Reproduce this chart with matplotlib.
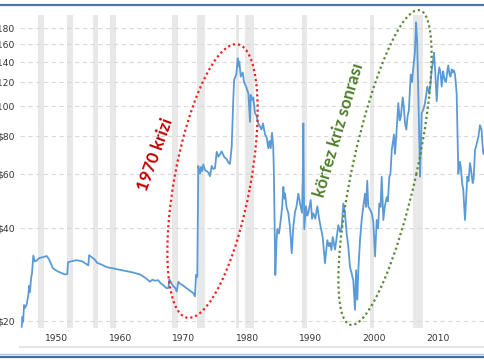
import matplotlib
matplotlib.use("Agg")
import matplotlib.pyplot as plt
from matplotlib.patches import Ellipse
from matplotlib.lines import Line2D
import matplotlib.transforms as mtransforms

# ---------------- data ----------------
years = [1946.33, 1946.45, 1946.55, 1946.7, 1946.85, 1947.12, 1947.37, 1947.5, 1947.64, 1947.8,
         1947.95, 1948.16, 1948.4, 1948.69, 1949.1, 1949.6, 1950.27, 1950.6, 1950.9, 1951.21,
         1951.6, 1952.09, 1952.6, 1953.15, 1953.5, 1953.62, 1954.3, 1954.99, 1955.9, 1956.82,
         1956.95, 1957.2, 1957.87, 1958.2, 1958.7, 1959.72, 1960.8, 1961.81, 1962.9, 1963.91,
         1964.96, 1965.8, 1966.54, 1966.9, 1967.32, 1967.84, 1968.2, 1968.63, 1969.17, 1969.45,
         1969.57, 1969.85, 1970.2, 1970.5, 1970.74, 1971.0, 1971.26, 1971.8, 1972.31, 1972.9,
         1973.35, 1973.62, 1973.78, 1973.98, 1974.14, 1974.3, 1974.41, 1974.6, 1974.75, 1974.93,
         1975.2, 1975.46, 1975.75, 1975.98, 1976.25, 1976.5, 1976.77, 1977.04, 1977.3, 1977.56,
         1977.83, 1978.2, 1978.61, 1978.9, 1979.13, 1979.4, 1979.65, 1979.78, 1980.0, 1980.15,
         1980.35, 1980.5, 1980.6, 1980.82, 1981.13, 1981.35, 1981.66, 1982.03, 1982.28, 1982.39,
         1982.6, 1982.8, 1983.07, 1983.3, 1983.59, 1983.86, 1984.1, 1984.33, 1984.65, 1984.9,
         1985.17, 1985.35, 1985.55, 1985.75, 1985.95, 1986.05, 1986.27, 1986.45, 1986.58, 1986.85,
         1987.12, 1987.35, 1987.53, 1987.7, 1987.8, 1988.06, 1988.31, 1988.58, 1988.85, 1989.1,
         1989.37, 1989.6, 1989.89, 1990.16, 1990.47, 1990.6, 1990.68, 1990.83, 1991.1, 1991.3,
         1991.46, 1991.84, 1992.05, 1992.25, 1992.57, 1992.88, 1993.1, 1993.31, 1993.73, 1994.09,
         1994.3, 1994.46, 1994.7, 1994.88, 1995.1, 1995.31, 1995.67, 1995.9, 1996.19, 1996.46,
         1996.72, 1996.98, 1997.24, 1997.51, 1997.76, 1998.03, 1998.3, 1998.55, 1998.82, 1998.98,
         1999.18, 1999.34, 1999.61, 1999.87, 2000.13, 2000.39, 2000.55, 2000.75, 2000.91, 2001.2,
         2001.45, 2001.7, 2001.97, 2002.24, 2002.45, 2002.65, 2002.85, 2003.02, 2003.28, 2003.5,
         2003.81, 2004.0, 2004.22, 2004.4, 2004.6, 2004.96, 2005.1, 2005.28, 2005.64, 2005.85,
         2006.02, 2006.33, 2006.5, 2006.69, 2006.9, 2007.1, 2007.3, 2007.59, 2007.8, 2008.0,
         2008.25, 2008.43, 2008.6, 2008.85, 2009.06, 2009.2, 2009.32, 2009.6, 2009.84, 2010.0,
         2010.2, 2010.52, 2010.7, 2010.9, 2011.1, 2011.26, 2011.45, 2011.69, 2011.9, 2012.09,
         2012.3, 2012.47, 2012.7, 2012.83, 2013.0, 2013.15, 2013.35, 2013.51, 2013.7, 2013.86,
         2014.05, 2014.2, 2014.4, 2014.57, 2014.83, 2015.0, 2015.09, 2015.3, 2015.46, 2015.7,
         2015.87, 2016.05, 2016.14, 2016.35, 2016.5, 2016.7, 2016.93, 2017.1, 2017.35, 2017.5,
         2017.72, 2017.95, 2018.24, 2018.5, 2018.74, 2018.9, 2019.02, 2019.29]

prices = [19.1, 20.6, 19.8, 22.5, 22.0, 22.6, 24.2, 26.0, 24.8, 27.5,
          28.5, 32.6, 31.2, 31.4, 32.0, 32.2, 32.5, 31.8, 30.8, 29.7,
          29.3, 28.9, 28.6, 28.3, 28.4, 31.0, 31.3, 31.5, 31.2, 30.3,
          32.7, 32.4, 31.6, 30.9, 30.6, 29.9, 29.6, 29.3, 29.0, 28.7,
          28.3, 27.6, 26.8, 27.2, 27.0, 27.1, 26.5, 26.1, 25.5, 25.6,
          27.3, 26.6, 25.9, 25.6, 24.9, 26.8, 26.4, 26.0, 25.5, 25.0,
          24.6, 24.0, 28.2, 27.8, 63.9, 61.0, 60.4, 63.5, 61.5, 64.6,
          62.0, 61.4, 60.8, 59.2, 63.9, 62.5, 62.8, 71.1, 68.5, 69.8,
          71.3, 68.5, 67.2, 65.5, 64.9, 74.0, 105.0, 122.0, 125.0, 128.0,
          143.4, 135.0, 140.0, 125.0, 129.0, 120.0, 116.0, 110.0, 89.0, 109.0,
          105.0, 107.0, 95.0, 93.4, 88.0, 86.0, 84.0, 88.0, 81.0, 79.4,
          73.0, 77.1, 73.0, 82.0, 73.0, 60.0, 28.2, 36.0, 39.8, 38.5,
          42.6, 47.0, 54.6, 50.0, 52.0, 46.6, 45.0, 40.4, 33.2, 40.4,
          45.3, 47.0, 51.9, 48.2, 45.0, 60.0, 88.0, 39.8, 47.2, 44.0,
          44.8, 49.5, 43.0, 44.8, 43.0, 47.2, 44.0, 41.4, 37.5, 30.8,
          34.0, 36.6, 35.0, 35.9, 34.0, 37.5, 34.1, 37.0, 41.0, 39.0,
          40.4, 48.2, 44.8, 38.5, 34.9, 29.9, 28.5, 27.0, 21.7, 29.2,
          23.4, 29.2, 36.7, 42.6, 47.2, 51.9, 47.0, 57.2, 47.2, 46.0,
          44.8, 42.0, 32.4, 42.6, 40.0, 48.2, 47.0, 58.9, 42.6, 47.0,
          50.6, 49.0, 58.9, 60.0, 72.0, 81.0, 70.0, 78.0, 102.5, 90.0,
          92.0, 107.0, 100.0, 88.0, 84.0, 93.0, 97.0, 127.0, 120.0, 134.0,
          150.0, 188.0, 164.0, 97.0, 59.0, 75.0, 95.0, 98.0, 102.5, 108.0,
          116.0, 110.0, 118.0, 131.6, 140.0, 149.6, 130.0, 104.0, 125.0, 134.0,
          128.0, 116.0, 130.0, 125.0, 121.0, 120.0, 130.0, 136.0, 127.0, 125.0,
          132.0, 129.0, 131.0, 127.0, 110.0, 75.0, 60.4, 66.0, 63.9, 56.0,
          53.4, 46.0, 42.6, 52.0, 59.0, 57.0, 65.3, 62.0, 56.2, 58.0,
          72.0, 75.0, 79.4, 86.8, 84.0, 75.0, 70.0, 73.0]

rec_start = [1948.87, 1953.54, 1957.62, 1960.29, 1969.96, 1973.87, 1980.0, 1981.54, 1990.54, 2001.21, 2007.96]
rec_end   = [1949.79, 1954.37, 1958.29, 1961.12, 1970.87, 1975.21, 1980.54, 1982.87, 1991.21, 2001.87, 2009.46]

ytick_vals = [20, 40, 60, 80, 100, 120, 140, 160, 180]
ytick_labels = ["$20", "$40", "$60", "$80", "$100", "$120", "$140", "$160", "$180"]
xtick_years = [1950, 1960, 1970, 1980, 1990, 2000, 2010]
xtick_labels = ["1950", "1960", "1970", "1980", "1990", "2000", "2010"]

note_red = "1970 krizi"
note_green = "körfez kriz sonrası"

# ---------------- figure ----------------
W, H = 485, 360
fig = plt.figure(figsize=(W / 100, H / 100), dpi=100)
fig.patch.set_facecolor("white")

ax = fig.add_axes([20 / W, (H - 328) / H, (W - 20) / W, (328 - 15) / H])
ax.set_yscale("log")
ax.set_xlim(1946.063, 2019.29)
ax.set_ylim(18.93, 198.6)

for s, e in zip(rec_start, rec_end):
    ax.axvspan(s, e, color="#e8e8e8", lw=0, zorder=0.5)

ax.plot(years, prices, color="#5b9bd5", lw=1.3, zorder=3, solid_joinstyle="round")

ax.set_yticks(ytick_vals)
ax.set_yticklabels(ytick_labels)
ax.yaxis.set_minor_locator(matplotlib.ticker.NullLocator())
ax.set_xticks(xtick_years)
ax.set_xticklabels(xtick_labels, ha="left")
offset = mtransforms.ScaledTranslation(3 / 100, 0, fig.dpi_scale_trans)
for lbl in ax.get_xticklabels():
    lbl.set_transform(lbl.get_transform() + offset)

ax.tick_params(axis="both", length=0, labelsize=6.6, colors="#333333")
ax.tick_params(axis="y", pad=3.6)
ax.tick_params(axis="x", pad=4.5)
ax.grid(axis="y", color="#d9d9d9", linestyle=(0, (4, 3)), lw=0.8, zorder=1)
ax.set_axisbelow(True)
for sp in ax.spines.values():
    sp.set_visible(False)

# ---------------- overlay (pixel coordinates, y up) ----------------
ov = fig.add_axes([0, 0, 1, 1], zorder=5)
ov.set_xlim(0, W)
ov.set_ylim(0, H)
ov.axis("off")
ov.patch.set_alpha(0)

def py(y):
    return H - y

# frame lines
ov.add_line(Line2D([0, W], [py(4.5), py(4.5)], color="#4a77ad", lw=1.6))
ov.add_line(Line2D([20, W], [py(346.5), py(346.5)], color="#e6e6e6", lw=1.5))
ov.add_line(Line2D([0, W], [py(353.5), py(353.5)], color="#a9c0dc", lw=0.9))
ov.add_line(Line2D([0, W], [py(356.5), py(356.5)], color="#3f6fa9", lw=1.6))

# ellipses
ov.add_patch(Ellipse((212.5, py(181)), 278, 76, angle=79.5, fill=False,
                     edgecolor="#f22020", lw=1.6, linestyle=(0, (1, 1.3))))
ov.add_patch(Ellipse((385, py(167.5)), 322, 64, angle=77.6, fill=False,
                     edgecolor="#5a8a36", lw=1.6, linestyle=(0, (1, 1.3))))

# notes
ov.text(155.5, py(154), note_red, rotation=70, rotation_mode="anchor", ha="center", va="center",
        color="#c00000", fontsize=12.3, fontweight="bold", family=["Lato", "DejaVu Sans"])
ov.text(339, py(130), note_green, rotation=73.5, rotation_mode="anchor", ha="center", va="center",
        color="#4f7f2c", fontsize=12.3, fontweight="bold", family=["Lato", "DejaVu Sans"])

fig.savefig("out.png", dpi=100)
